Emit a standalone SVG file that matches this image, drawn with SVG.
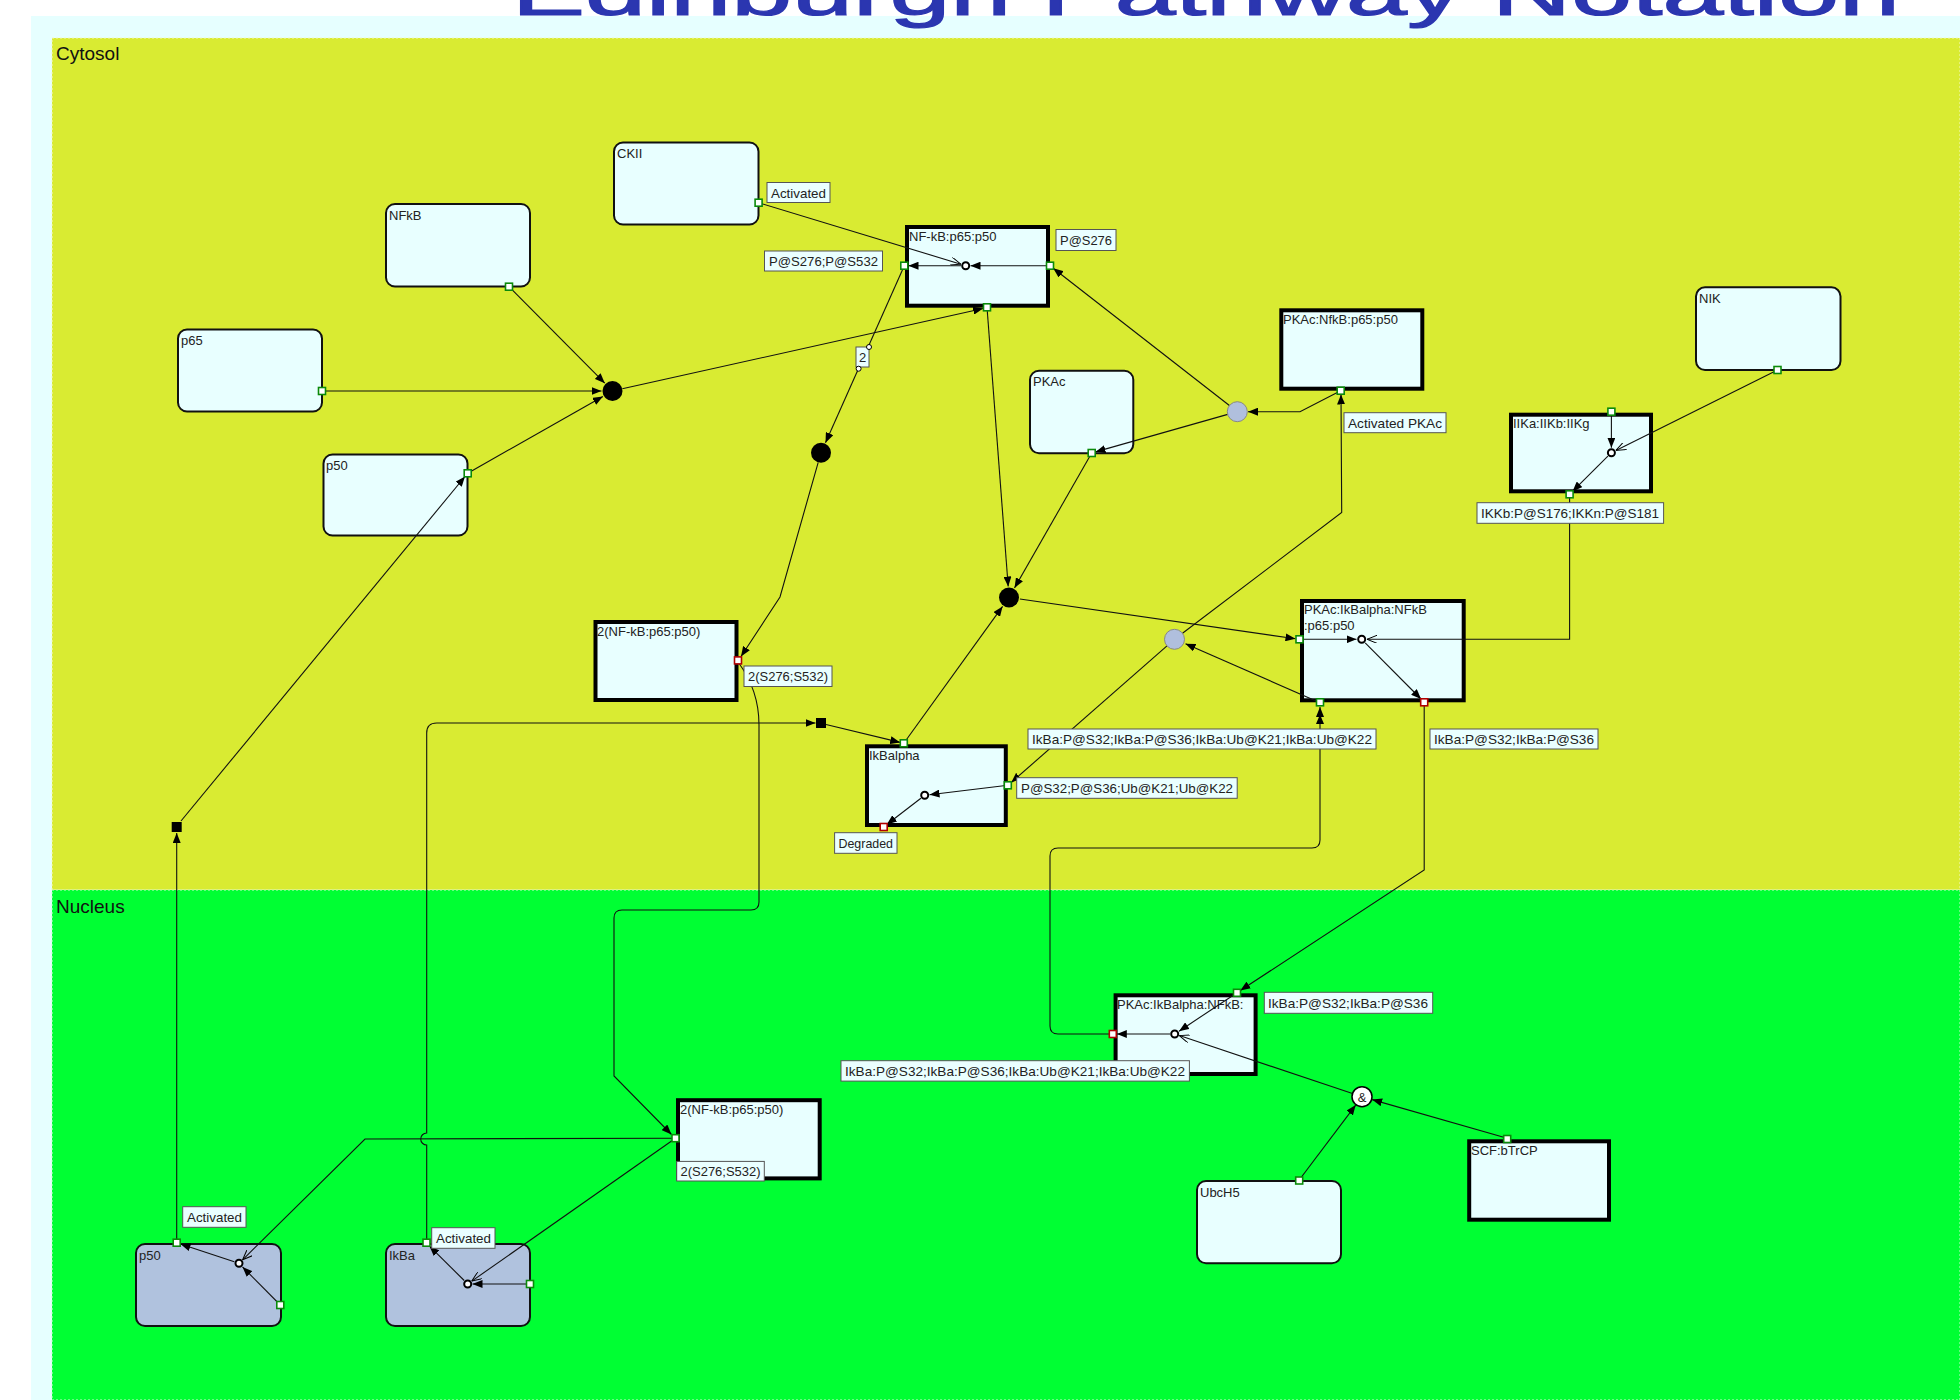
<svg xmlns="http://www.w3.org/2000/svg" width="1960" height="1400" viewBox="0 0 1960 1400">
<style>
  text { font-family: "Liberation Sans", Arial, sans-serif; fill: #222; }
  .name { font-size: 13px; }
  .lbl { font-size: 13px; }
  .comp { font-size: 19px; fill: #111; }
  .title { font-size: 64px; fill: #2b36b0; stroke: #2b36b0; stroke-width: 1.2; }
  .ent { fill: #e8ffff; stroke: #111; stroke-width: 2; }
  .cplx { fill: #e8ffff; stroke: #000; stroke-width: 4; }
  .mod { fill: #b0c2de; stroke: #111; stroke-width: 2; }
  .lbox { fill: #eaffff; stroke: #555; stroke-width: 1; }
  .port { fill: #ffffff; stroke: #0a8a0a; stroke-width: 1.6; }
  .rport { fill: #ffffff; stroke: #b00000; stroke-width: 1.6; }
  .trans { fill: #ffffff; stroke: #000; stroke-width: 2; }
  .proc { fill: #000; }
  .assoc { fill: #b0bfdd; stroke: #888; stroke-width: 1; }
  .edge { fill: none; stroke: #111; stroke-width: 1.1; }
  .prod { marker-end: url(#fa); }
  .cat { marker-end: url(#oa); }
</style>
<defs>
  <marker id="fa" viewBox="0 0 10 8" refX="10" refY="4" markerWidth="10" markerHeight="8" orient="auto" markerUnits="userSpaceOnUse">
    <path d="M0,0L10,4L0,8z" fill="#000"/>
  </marker>
  <marker id="oa" viewBox="0 0 10 8" refX="10" refY="4" markerWidth="10" markerHeight="8" orient="auto" markerUnits="userSpaceOnUse">
    <path d="M0,0L10,4L0,8" fill="none" stroke="#000" stroke-width="1"/>
  </marker>
</defs>

<!-- page and compartments -->
<rect x="0" y="0" width="1960" height="1400" fill="#ffffff"/>
<g id="compartments">
  <rect x="31" y="16" width="1929" height="1384" fill="#e6ffff"/>
  <g id="cytosol">
    <rect x="52" y="38" width="1908" height="852" fill="#d9eb32" stroke="#f4f8c0" stroke-width="1" stroke-dasharray="2 2"/>
    <text class="comp" x="56" y="60">Cytosol</text>
  </g>
  <g id="nucleus">
    <rect x="52" y="890" width="1908" height="510" fill="#00ff33" stroke="#c8ffd0" stroke-width="1" stroke-dasharray="2 2"/>
    <text class="comp" x="56" y="913">Nucleus</text>
  </g>
</g>
<text class="title" x="512" y="15" textLength="1388" lengthAdjust="spacingAndGlyphs">Edinburgh Pathway Notation</text>

<!-- entity and complex bodies -->
<g id="nodes">
  <g id="NFkB"><rect class="ent" x="386" y="204" width="144" height="82.5" rx="9"/><text class="name" x="389" y="220">NFkB</text></g>
  <g id="p65"><rect class="ent" x="178" y="329.5" width="144" height="82" rx="9"/><text class="name" x="181" y="345">p65</text></g>
  <g id="p50"><rect class="ent" x="323.5" y="454.5" width="144" height="81" rx="9"/><text class="name" x="326" y="470">p50</text></g>
  <g id="CKII"><rect class="ent" x="614" y="142.5" width="144.5" height="82" rx="9"/><text class="name" x="617" y="158">CKII</text></g>
  <g id="PKAc"><rect class="ent" x="1030" y="370.7" width="103.3" height="82.6" rx="9"/><text class="name" x="1033" y="386">PKAc</text></g>
  <g id="NIK"><rect class="ent" x="1696" y="287.3" width="144.5" height="82.7" rx="9"/><text class="name" x="1699" y="303">NIK</text></g>
  <g id="UbcH5"><rect class="ent" x="1197" y="1181" width="144" height="82.3" rx="9"/><text class="name" x="1200" y="1197">UbcH5</text></g>
  <g id="p50-nuc"><rect class="mod" x="136" y="1244" width="145" height="82" rx="9"/><text class="name" x="139" y="1260">p50</text></g>
  <g id="IkBa-nuc"><rect class="mod" x="386" y="1244" width="144" height="82" rx="9"/><text class="name" x="389" y="1260">IkBa</text></g>

  <g id="NFkB-p65-p50"><rect class="cplx" x="907" y="227" width="141" height="78.7"/><text class="name" x="909" y="241">NF-kB:p65:p50</text></g>
  <g id="PKAc-NfkB-p65-p50"><rect class="cplx" x="1281.3" y="310.3" width="141" height="78.4"/><text class="name" x="1283" y="324">PKAc:NfkB:p65:p50</text></g>
  <g id="IIKa-IIKb-IIKg"><rect class="cplx" x="1511" y="414.7" width="140" height="76.6"/><text class="name" x="1513" y="428">IIKa:IIKb:IIKg</text></g>
  <g id="PKAc-IkBalpha-NFkB"><rect class="cplx" x="1302" y="601" width="161.7" height="99.3"/><text class="name" x="1304" y="614">PKAc:IkBalpha:NFkB</text><text class="name" x="1304" y="630">:p65:p50</text></g>
  <g id="NFkB-dimer"><rect class="cplx" x="595.5" y="622" width="141" height="78"/><text class="name" x="597" y="636">2(NF-kB:p65:p50)</text></g>
  <g id="IkBalpha"><rect class="cplx" x="867" y="746.3" width="138.8" height="78.7"/><text class="name" x="869" y="760">IkBalpha</text></g>
  <g id="PKAc-IkBalpha-NFkB-nuc"><rect class="cplx" x="1115.6" y="995.3" width="140" height="78.7"/><text class="name" x="1117" y="1009">PKAc:IkBalpha:NFkB:</text></g>
  <g id="NFkB-dimer-nuc"><rect class="cplx" x="678" y="1100.2" width="141.7" height="78.2"/><text class="name" x="680" y="1114">2(NF-kB:p65:p50)</text></g>
  <g id="SCF-bTrCP"><rect class="cplx" x="1469.2" y="1141.3" width="139.8" height="78.4"/><text class="name" x="1471" y="1155">SCF:bTrCP</text></g>
</g>

<!-- connectors -->
<g id="connectors">
  <!-- association into NF-kB:p65:p50 -->
  <path class="edge prod" d="M509,286.7L604.8,383.2"/>
  <path class="edge prod" d="M322,391L601.5,391"/>
  <path class="edge prod" d="M467.7,473.3L602.9,396.4"/>
  <path class="edge prod" d="M622.3,388.8L983.1,308.5"/>
  <!-- phosphorylation of NF-kB by CKII -->
  <path class="edge cat" d="M758.6,202.7L960.9,264.2"/>
  <path class="edge prod" d="M1050,265.7L970.5,265.7"/>
  <path class="edge prod" d="M961,265.7L908.5,265.7"/>
  <!-- dimerisation -->
  <path class="edge prod" d="M904.3,265.7L825.5,442.7"/>
  <path class="edge prod" d="M818.2,462.3L780,597L741,656.5"/>
  <path class="edge prod" d="M738,662Q759,690 759,725L759,902Q759,910 751,910L622,910Q614,910 614,918L614,1076L671.5,1134.5"/>
  <!-- nuclear dimer acting on p50 and IkBa -->
  <path class="edge cat" d="M675.5,1138.2L365,1139L242.6,1259.8"/>
  <path class="edge cat" d="M675.5,1138.2L471.8,1281.1"/>
  <path class="edge prod" d="M280.3,1305L242.5,1266.9"/>
  <path class="edge prod" d="M234.3,1261.7L180.5,1244"/>
  <path class="edge prod" d="M176.7,1239.5L176.7,833"/>
  <path class="edge prod" d="M181,821L465,476.5"/>
  <path class="edge prod" d="M530,1284L472.5,1284"/>
  <path class="edge prod" d="M464.2,1280.5L429.5,1246.2"/>
  <path class="edge prod" d="M426.7,1239.5L426.7,1145A6,6 0 0 1 426.7,1133L426.7,733Q426.7,723 436.7,723L815.5,723"/>
  <path class="edge prod" d="M826,724.5L900.2,742.4"/>
  <!-- IkBalpha binding -->
  <path class="edge prod" d="M903.8,743.3L1002.6,606.4"/>
  <path class="edge prod" d="M987,307.3L1008.2,586.5"/>
  <path class="edge prod" d="M1091.7,453L1014.5,588"/>
  <path class="edge prod" d="M1019.9,599L1295.5,638.8"/>
  <!-- IKK driven phosphorylation -->
  <path class="edge prod" d="M1303,639.3L1356.5,639.3"/>
  <path class="edge cat" d="M1569.6,494.3L1569.6,639.3L1367,639.3"/>
  <path class="edge prod" d="M1365.2,642.8L1421,699"/>
  <path class="edge prod" d="M1611.4,415.5L1611.4,447.7"/>
  <path class="edge cat" d="M1777.5,370L1615.9,450.5"/>
  <path class="edge prod" d="M1607.9,456.2L1572.5,491.4"/>
  <!-- dissociation of the cytosolic complex -->
  <path class="edge prod" d="M1316,701L1185.5,643.7"/>
  <path class="edge prod" d="M1182.5,633.2L1341.7,512.5L1341,394.5"/>
  <path class="edge prod" d="M1167,645.9L1011.2,782.5"/>
  <path class="edge prod" d="M1007.8,785.3L929.5,794.7"/>
  <path class="edge prod" d="M920.9,798.2L886.8,824.5"/>
  <!-- PKAc release -->
  <path class="edge prod" d="M1340.7,390.7L1300,411.7L1248,411.7"/>
  <path class="edge prod" d="M1227.7,414.4L1095.5,451.9"/>
  <path class="edge prod" d="M1229.4,405.5L1053.2,268.2"/>
  <!-- nuclear shuttling -->
  <path class="edge prod" d="M1424.2,702.3L1424.2,870L1240.3,990.5"/>
  <path class="edge prod" d="M1109,1034L1058,1034Q1050,1034 1050,1026L1050,856Q1050,848 1058,848L1312,848Q1320,848 1320,840L1320,707"/>
  <polygon points="1316,724 1320,714.5 1324,724" fill="#000"/>
  <!-- ubiquitination in the nucleus -->
  <path class="edge prod" d="M1234,994.7L1179,1031.2"/>
  <path class="edge prod" d="M1170,1034L1116.8,1034"/>
  <path class="edge cat" d="M1352.5,1093.5L1179.4,1035.6"/>
  <path class="edge prod" d="M1299.2,1180L1355.7,1105.1"/>
  <path class="edge prod" d="M1507.2,1138.3L1372.1,1099.6"/>
</g>

<!-- process nodes -->
<g id="processes">
  <circle class="proc" cx="612.5" cy="391" r="10"/>
  <circle class="proc" cx="821" cy="452.7" r="10"/>
  <circle class="proc" cx="1009" cy="597.5" r="10"/>
  <rect class="proc" x="171.7" y="822" width="10" height="10"/>
  <rect class="proc" x="816" y="718" width="10" height="10"/>
  <circle class="assoc" cx="1237.3" cy="411.7" r="10"/>
  <circle class="assoc" cx="1174.5" cy="639.3" r="10"/>
  <g id="and-gate"><circle cx="1362" cy="1096.7" r="10" fill="#fff" stroke="#000" stroke-width="1.5"/><text x="1362" y="1101.5" font-size="13" text-anchor="middle">&amp;</text></g>
</g>

<!-- ports, state transitions and state labels -->
<g id="states">
  <g id="NFkB-p65-p50-states">
    <circle class="trans" cx="965.7" cy="265.7" r="3.5"/>
    <rect class="port" x="900.8" y="262.2" width="7" height="7"/>
    <rect class="port" x="1046.5" y="262.2" width="7" height="7"/>
    <rect class="port" x="983.5" y="303.8" width="7" height="7"/>
    <rect class="lbox" x="764.5" y="251" width="118" height="20"/><text class="lbl" x="769" y="266" textLength="109" lengthAdjust="spacingAndGlyphs">P@S276;P@S532</text>
    <rect class="lbox" x="1056" y="229.5" width="60" height="21"/><text class="lbl" x="1060" y="245" textLength="52" lengthAdjust="spacingAndGlyphs">P@S276</text>
  </g>
  <g id="stoichiometry">
    <rect class="lbox" x="856" y="347" width="13" height="20"/><text class="lbl" x="862.5" y="362" text-anchor="middle">2</text>
    <circle cx="869" cy="347" r="2.5" fill="#fff" stroke="#000" stroke-width="1"/>
    <circle cx="858.6" cy="368.7" r="2.5" fill="#fff" stroke="#000" stroke-width="1"/>
  </g>
  <g id="entity-ports">
    <rect class="port" x="505.5" y="283.2" width="7" height="7"/>
    <rect class="port" x="318.5" y="387.5" width="7" height="7"/>
    <rect class="port" x="464.2" y="469.8" width="7" height="7"/>
    <rect class="port" x="755.1" y="199.2" width="7" height="7"/>
    <rect class="lbox" x="767" y="182.5" width="63" height="20"/><text class="lbl" x="771" y="197.5" textLength="55" lengthAdjust="spacingAndGlyphs">Activated</text>
    <rect class="port" x="1088.2" y="449.5" width="7" height="7"/>
    <rect class="port" x="1774" y="366.5" width="7" height="7"/>
    <rect class="port" x="1295.7" y="1177" width="7" height="7"/>
    <rect class="port" x="1503.7" y="1135.5" width="7" height="7"/>
  </g>
  <g id="PKAc-NfkB-p65-p50-states">
    <rect class="port" x="1337.2" y="387.2" width="7" height="7"/>
    <rect class="lbox" x="1344" y="412.7" width="102" height="20"/><text class="lbl" x="1348" y="427.7" textLength="94" lengthAdjust="spacingAndGlyphs">Activated PKAc</text>
  </g>
  <g id="IIKa-IIKb-IIKg-states">
    <circle class="trans" cx="1611.4" cy="452.7" r="3.5"/>
    <rect class="port" x="1607.9" y="408.2" width="7" height="7"/>
    <rect class="port" x="1566.1" y="490.8" width="7" height="7"/>
    <rect class="lbox" x="1477" y="502.7" width="186.6" height="20.6"/><text class="lbl" x="1481" y="518" textLength="178" lengthAdjust="spacingAndGlyphs">IKKb:P@S176;IKKn:P@S181</text>
  </g>
  <g id="PKAc-IkBalpha-NFkB-states">
    <circle class="trans" cx="1361.7" cy="639.3" r="3.5"/>
    <rect class="port" x="1296" y="635.8" width="7" height="7"/>
    <rect class="port" x="1316.5" y="698.8" width="7" height="7"/>
    <rect class="rport" x="1420.7" y="698.8" width="7" height="7"/>
    <rect class="lbox" x="1028" y="729" width="348" height="20"/><text class="lbl" x="1032" y="744" textLength="340" lengthAdjust="spacingAndGlyphs">IkBa:P@S32;IkBa:P@S36;IkBa:Ub@K21;IkBa:Ub@K22</text>
    <rect class="lbox" x="1430" y="729" width="168" height="20"/><text class="lbl" x="1434" y="744" textLength="160" lengthAdjust="spacingAndGlyphs">IkBa:P@S32;IkBa:P@S36</text>
  </g>
  <g id="NFkB-dimer-states">
    <rect class="rport" x="734.5" y="656.9" width="7" height="7"/>
    <rect class="lbox" x="744" y="666" width="88" height="20.5"/><text class="lbl" x="748" y="681" textLength="80" lengthAdjust="spacingAndGlyphs">2(S276;S532)</text>
  </g>
  <g id="IkBalpha-states">
    <circle class="trans" cx="924.7" cy="795.3" r="3.5"/>
    <rect class="port" x="900.3" y="739.8" width="7" height="7"/>
    <rect class="port" x="1004.3" y="781.8" width="7" height="7"/>
    <rect class="rport" x="880.2" y="823.5" width="7" height="7"/>
    <rect class="lbox" x="1016.7" y="777.7" width="220.5" height="20.6"/><text class="lbl" x="1021" y="793" textLength="212" lengthAdjust="spacingAndGlyphs">P@S32;P@S36;Ub@K21;Ub@K22</text>
    <rect class="lbox" x="834.6" y="832.7" width="62.4" height="20.6"/><text class="lbl" x="838.5" y="848" textLength="54.5" lengthAdjust="spacingAndGlyphs">Degraded</text>
  </g>
  <g id="PKAc-IkBalpha-NFkB-nuc-states">
    <circle class="trans" cx="1174.7" cy="1034" r="3.5"/>
    <rect class="port" x="1233.5" y="989.3" width="7" height="7"/>
    <rect class="rport" x="1109.3" y="1030.5" width="7" height="7"/>
    <rect class="lbox" x="1264.3" y="992.3" width="168.4" height="21"/><text class="lbl" x="1268" y="1008" textLength="160" lengthAdjust="spacingAndGlyphs">IkBa:P@S32;IkBa:P@S36</text>
    <rect class="lbox" x="841" y="1060.7" width="348.4" height="20.4"/><text class="lbl" x="845" y="1076" textLength="340" lengthAdjust="spacingAndGlyphs">IkBa:P@S32;IkBa:P@S36;IkBa:Ub@K21;IkBa:Ub@K22</text>
  </g>
  <g id="NFkB-dimer-nuc-states">
    <rect class="port" x="672" y="1134.7" width="7" height="7"/>
    <rect class="lbox" x="676.7" y="1161.4" width="87.6" height="19.6"/><text class="lbl" x="680.5" y="1176" textLength="80" lengthAdjust="spacingAndGlyphs">2(S276;S532)</text>
  </g>
  <g id="p50-nuc-states">
    <circle class="trans" cx="239" cy="1263.3" r="3.5"/>
    <rect class="port" x="173.2" y="1239.2" width="7" height="7"/>
    <rect class="port" x="276.8" y="1301.5" width="7" height="7"/>
    <rect class="lbox" x="182.7" y="1206.7" width="63.3" height="20.6"/><text class="lbl" x="187" y="1222" textLength="55" lengthAdjust="spacingAndGlyphs">Activated</text>
  </g>
  <g id="IkBa-nuc-states">
    <circle class="trans" cx="467.7" cy="1284" r="3.5"/>
    <rect class="port" x="423" y="1239.2" width="7" height="7"/>
    <rect class="port" x="526.5" y="1280.5" width="7" height="7"/>
    <rect class="lbox" x="431.7" y="1227.7" width="63.3" height="20.6"/><text class="lbl" x="436" y="1243" textLength="55" lengthAdjust="spacingAndGlyphs">Activated</text>
  </g>
</g>
</svg>
